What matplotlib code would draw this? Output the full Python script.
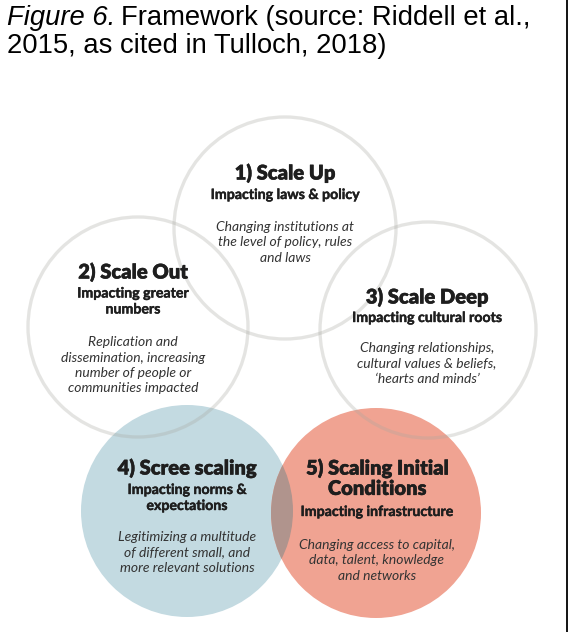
import matplotlib
matplotlib.use('Agg')
import matplotlib.pyplot as plt
import matplotlib.patheffects as pe
from matplotlib.patches import Circle

# circle labels
headings = ['1) Scale Up', '2) Scale Out', '3) Scale Deep', '4) Scree scaling',
            '5) Scaling Initial\nConditions']
subheads = ['Impacting laws & policy', 'Impacting greater\nnumbers',
            'Impacting cultural roots', 'Impacting norms &\nexpectations',
            'Impacting infrastructure']
descs = ['Changing institutions at\nthe level of policy, rules\nand laws',
         'Replication and\ndissemination, increasing\nnumber of people or\ncommunities impacted',
         'Changing relationships,\ncultural values & beliefs,\n\u2018hearts and minds\u2019',
         'Legitimizing a multitude\nof different small, and\nmore relevant solutions',
         'Changing access to capital,\ndata, talent, knowledge\nand networks']

# layout (pixels)
centers = [(285, 228), (138, 327), (428, 330), (187, 511), (376, 513)]
radius = [111, 110, 108, 106, 105]
head_y = [173, 272, 297, 468, 478]
sub_y = [195, 301.5, 318, 498, 512]
desc_y = [221, 336, 342, 531, 539]
text_x = [285, 133, 427, 187, 377]

W, H = 569, 632
fig = plt.figure(figsize=(W / 100, H / 100), dpi=100)
ax = fig.add_axes([0, 0, 1, 1])
ax.set_xlim(0, W)
ax.set_ylim(H, 0)
ax.axis('off')

blue = '#c3dae1'
red = '#f0a392'
ax.add_patch(Circle(centers[3], radius[3], facecolor=blue, edgecolor='none', zorder=1))
red_c = Circle(centers[4], radius[4], facecolor=red, edgecolor='none', zorder=1)
ax.add_patch(red_c)
lens = Circle(centers[3], radius[3], facecolor='#b0948d', edgecolor='none', zorder=2)
ax.add_patch(lens)
lens.set_clip_path(red_c)

for i in range(3):
    ax.add_patch(Circle(centers[i], radius[i], facecolor='none', edgecolor='#a8a8a0',
                        alpha=0.3, lw=2.4, zorder=3))

hfont = dict(family='Lato', weight='heavy', color='#1e1e1e', ha='center', va='center')
sfont = dict(family='Lato', weight='bold', color='#1e1e1e', ha='center', va='center')
dfont = dict(family='Lato', style='italic', color='#333333', ha='center', va='top')
for i in range(5):
    ax.text(text_x[i], head_y[i], headings[i], fontsize=14.5, linespacing=1.05, zorder=4,
            path_effects=[pe.withStroke(linewidth=0.3, foreground='#1e1e1e')], **hfont)
    ax.text(text_x[i], sub_y[i], subheads[i], fontsize=10.2, linespacing=1.4, zorder=4,
            path_effects=[pe.withStroke(linewidth=0.3, foreground='#1e1e1e')], **sfont)
    ax.text(text_x[i], desc_y[i], descs[i], fontsize=10, linespacing=1.35, zorder=4, **dfont)

# caption
t1 = ax.text(7, 25, 'Figure 6.', fontsize=19.7, family='Liberation Sans', style='italic',
             va='baseline', ha='left')
fig.canvas.draw()
bb = t1.get_window_extent()
ax.text(7 + bb.width + 6, 25, 'Framework (source: Riddell et al.,', fontsize=19.7,
        family='Liberation Sans', va='baseline', ha='left')
ax.text(7, 53, '2015, as cited in Tulloch, 2018)', fontsize=19.7,
        family='Liberation Sans', va='baseline', ha='left')

ax.plot([567, 567], [0, H], color='black', lw=1.3)

fig.savefig('out.png', dpi=100)
